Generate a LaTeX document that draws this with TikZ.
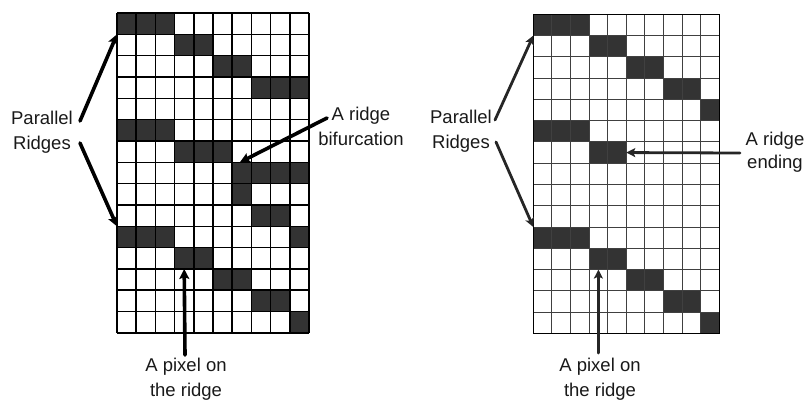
\documentclass[tikz,border=0pt]{standalone}
\usepackage{fontspec}
\setmainfont{Liberation Sans}
\usetikzlibrary{arrows.meta}
\definecolor{cellfill}{HTML}{333333}
\begin{document}
\begin{tikzpicture}[x=1pt,y=-1pt,
  lbl/.style={font=\fontsize{18.5}{25}\selectfont, align=center, anchor=north, inner sep=0pt, text=black!90},
  bigarrow/.style={line width=3.6pt, line cap=round, -{Stealth[length=10pt,width=10pt,inset=2pt]}, black},
  thinarrow/.style={line width=2.8pt, line cap=round, -{Stealth[length=9pt,width=9pt,inset=2pt]}, black!85},
  lgrid/.style={line width=1.6pt, black},
  rgrid/.style={line width=1pt, black!75},
  cell/.style={fill=cellfill}]
\useasboundingbox (0,0) rectangle (809,400);

% ---- left grid ----
\begin{scope}[shift={(117,13)}, x=19.2pt, y=-21.33pt]
  \foreach \r/\c in {0/0,0/1,0/2, 1/3,1/4, 2/5,2/6, 3/7,3/8,3/9,
                     5/0,5/1,5/2, 6/3,6/4,6/5, 7/6,7/7,7/8,7/9, 8/6, 9/7,9/8,
                     10/0,10/1,10/2,10/9, 11/3,11/4, 12/5,12/6, 13/7,13/8, 14/9}
    \fill[cell] (\c,\r) rectangle ++(1,1);
  \foreach \i in {0,...,10} \draw[lgrid] (\i,0) -- (\i,15);
  \foreach \j in {0,...,15} \draw[lgrid] (0,\j) -- (10,\j);
  \coordinate (lTipA) at (0,1);
  \coordinate (lTipB) at (0,10);
  \coordinate (lTipBif) at (6.4,7);
  \coordinate (lTipPix) at (3.5,12);
\end{scope}

% ---- right grid ----
\begin{scope}[shift={(533.3,14.3)}, x=18.6pt, y=-21.27pt]
  \foreach \r/\c in {0/0,0/1,0/2, 1/3,1/4, 2/5,2/6, 3/7,3/8, 4/9,
                     5/0,5/1,5/2, 6/3,6/4,
                     10/0,10/1,10/2, 11/3,11/4, 12/5,12/6, 13/7,13/8, 14/9}
    \fill[cell] (\c,\r) rectangle ++(1,1);
  \foreach \i in {0,...,10} \draw[rgrid] (\i,0) -- (\i,15);
  \foreach \j in {0,...,15} \draw[rgrid] (0,\j) -- (10,\j);
  \draw[line width=1.2pt, black] (0,0) rectangle (10,15);
  \coordinate (rTipA) at (0,1);
  \coordinate (rTipB) at (0,10);
  \coordinate (rTipEnd) at (5,6.5);
  \coordinate (rTipPix) at (3.5,12);
\end{scope}

% ---- labels ----
\node[lbl] (lpar) at (42,111) {Parallel\\Ridges};
\node[lbl] (lbif) at (361,106.5) {A ridge\\bifurcation};
\node[lbl] (lpix) at (186,358) {A pixel on\\the ridge};
\node[lbl] (rpar) at (461,110) {Parallel\\Ridges};
\node[lbl, font=\fontsize{18.5}{23}\selectfont] (rend) at (775,131.5) {A ridge\\ending};
\node[lbl] (rpix) at (600,358) {A pixel on\\the ridge};

% ---- arrow start points ----
\coordinate (lSA) at (80,121);
\coordinate (lSB) at (80,143);
\coordinate (lSBif) at (327,118);
\coordinate (lSPix) at (185,355);
\coordinate (rSA) at (495,120);
\coordinate (rSB) at (496,142);
\coordinate (rSEnd) at (740,153);
\coordinate (rSPix) at (598.4,353);

% ---- arrows ----
\draw[bigarrow] (lSA) -- (lTipA);
\draw[bigarrow] (lSB) -- (lTipB);
\draw[bigarrow] (lSBif) -- (lTipBif);
\draw[bigarrow] (lSPix) -- (lTipPix);
\draw[thinarrow] (rSA) -- (rTipA);
\draw[thinarrow] (rSB) -- (rTipB);
\draw[thinarrow] (rSEnd) -- (rTipEnd);
\draw[thinarrow] (rSPix) -- (rTipPix);
\end{tikzpicture}
\end{document}
